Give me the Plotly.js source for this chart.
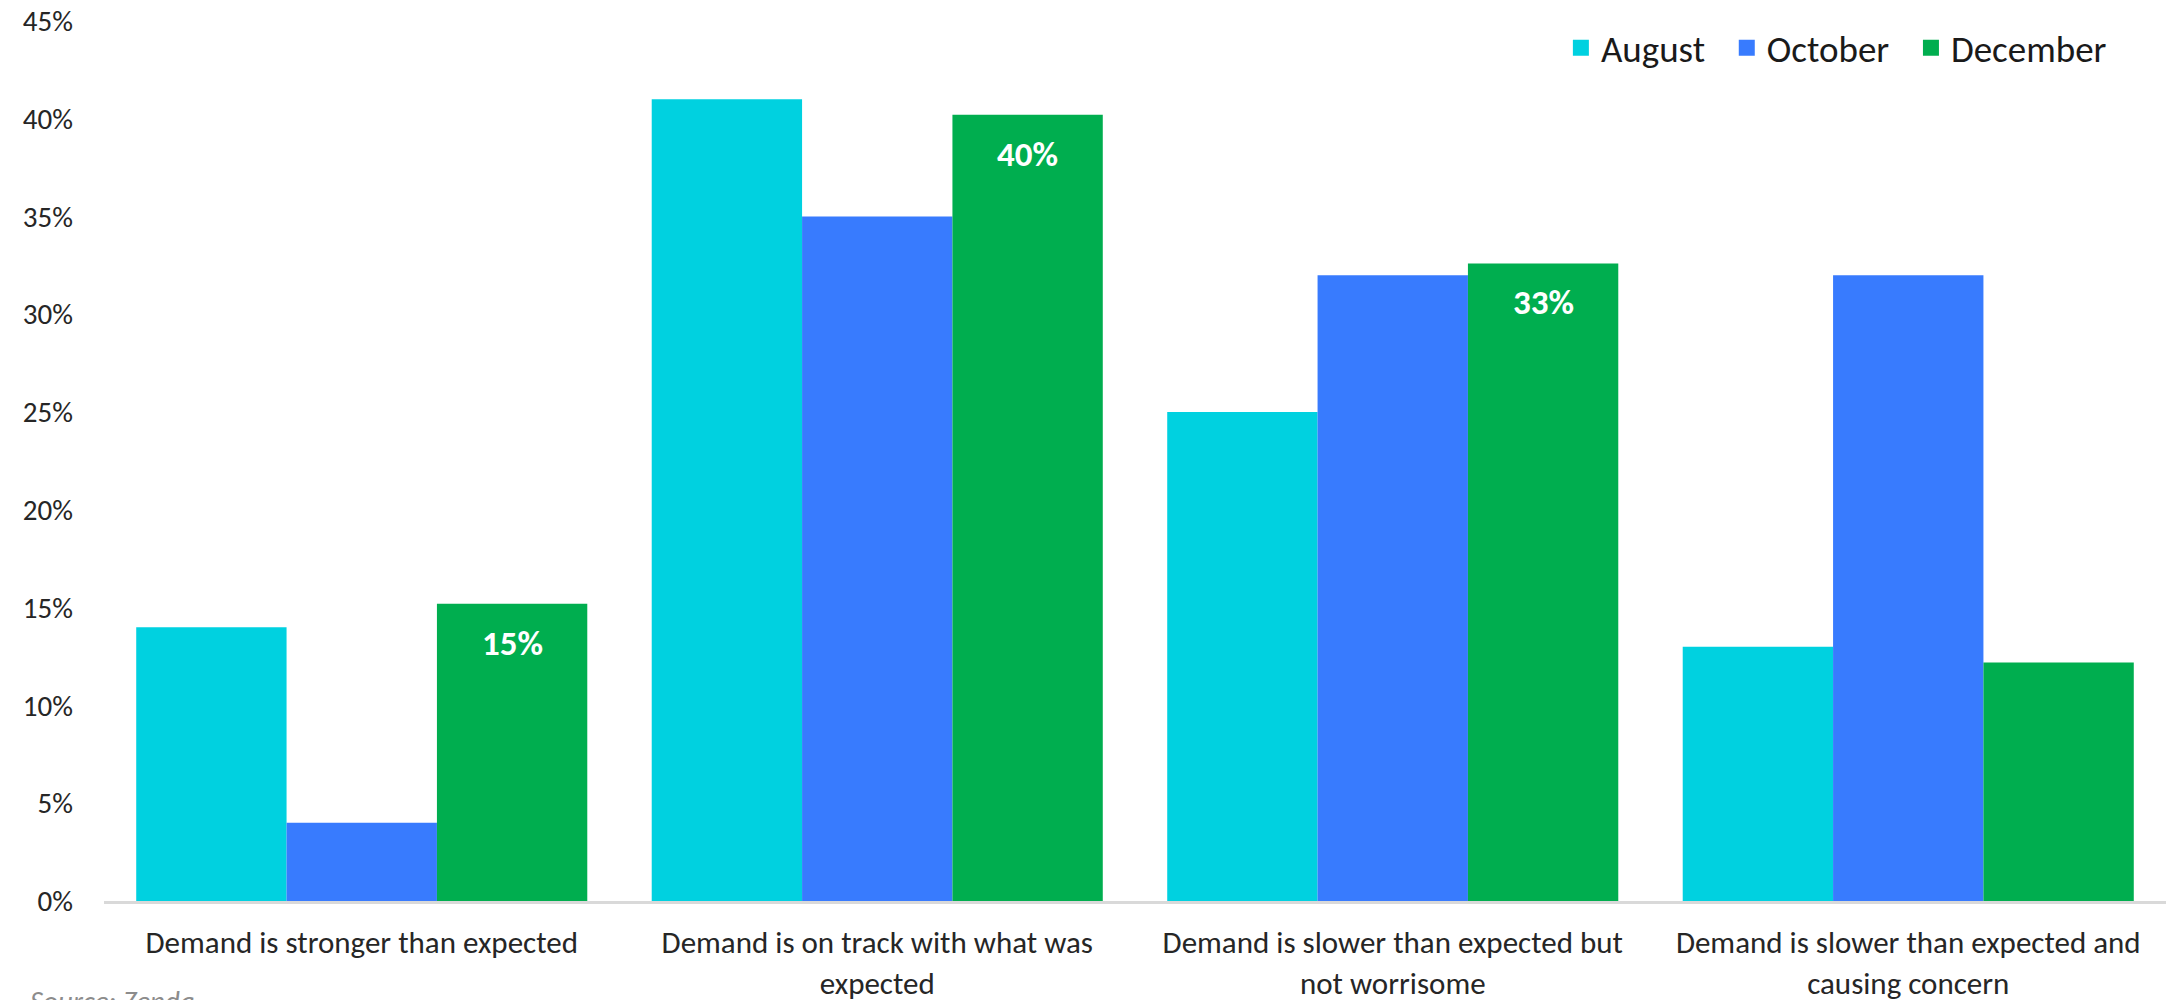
<!DOCTYPE html>
<html>
<head>
<meta charset="utf-8">
<script src="https://cdn.plot.ly/plotly-3.0.1.min.js"></script>
<style>html,body{margin:0;padding:0;background:#fff;overflow:hidden}#chart{width:2167px;height:1000px}</style>
</head>
<body>
<div id="chart"></div>
<script>
const categories = [
  "Demand is stronger than expected",
  "Demand is on track with what was<br>expected",
  "Demand is slower than expected but<br>not worrisome",
  "Demand is slower than expected and<br>causing concern"
];
const seriesNames = ["August", "October", "December"];
const august = [14, 41, 25, 13];
const october = [4, 35, 32, 32];
const december = [15.2, 40.2, 32.6, 12.2];
const decemberLabels = ["15%", "40%", "33%", ""];
const yTicks = [0, 5, 10, 15, 20, 25, 30, 35, 40, 45];
const yTickText = ["0%", "5%", "10%", "15%", "20%", "25%", "30%", "35%", "40%", "45%"];
const sourceText = "Source: Zenda";

const FONT = "Carlito, Lato, 'Liberation Sans', sans-serif";
const W = 2167, H = 1000;
const margin = {l: 104, r: 1, t: 21, b: 99};
const bargap = 0.125;
const colors = ["#00D1E0", "#387BFE", "#00AE4F"];
const values = [august, october, december];

const traces = values.map((v, i) => ({
  type: "bar", name: seriesNames[i], x: categories, y: v,
  marker: {color: colors[i]}, hoverinfo: "skip", showlegend: false
}));
// legend-only proxies with larger square swatches (trailing spaces widen the item gap)
seriesNames.forEach((n, i) => traces.push({
  type: "scatter", mode: "markers", name: n + "\u00a0\u00a0", x: [null], y: [null],
  marker: {symbol: "square", size: 22, color: colors[i]}, showlegend: true, hoverinfo: "skip"
}));

const plotW = W - margin.l - margin.r;
const catW = plotW / categories.length;
const barW = catW * (1 - bargap) / 3;

const annotations = categories.map((c, i) => ({
  x: c, y: december[i], xref: "x", yref: "y",
  text: decemberLabels[i] ? "<b>" + decemberLabels[i] + "</b>" : "",
  showarrow: false, xshift: barW, yshift: -39, yanchor: "middle",
  font: {family: FONT, size: 35, color: "#ffffff"}
})).filter(a => a.text);

annotations.push({
  text: sourceText, xref: "paper", yref: "paper", x: -0.037, y: 0, yshift: -80,
  xanchor: "left", yanchor: "top", showarrow: false,
  font: {family: FONT, size: 29, color: "#8c8c8c", style: "italic"}
});

const layout = {
  width: W, height: H,
  margin: margin,
  paper_bgcolor: "#ffffff", plot_bgcolor: "#ffffff",
  barmode: "group", bargap: bargap, bargroupgap: 0,
  font: {family: FONT, size: 31, color: "#262626"},
  showlegend: true,
  legend: {orientation: "h", x: 0.982, xanchor: "right", y: 0.969, yanchor: "middle",
           font: {family: FONT, size: 37, color: "#1a1a1a"}, bgcolor: "rgba(0,0,0,0)",
           itemwidth: 30, tracegroupgap: 0},
  xaxis: {type: "category", showgrid: false, zeroline: false, showline: true,
          linecolor: "#D9D9D9", linewidth: 3, ticks: "", ticklabelstandoff: 12,
          tickfont: {family: FONT, size: 31, color: "#262626"}, fixedrange: true},
  yaxis: {range: [0, 45], tickvals: yTicks, ticktext: yTickText, showgrid: false,
          zeroline: false, showline: false, ticks: "", ticklabelstandoff: 30,
          tickfont: {family: FONT, size: 29, color: "#262626"}, fixedrange: true},
  annotations: annotations
};

Plotly.newPlot("chart", traces, layout, {displayModeBar: false, staticPlot: true});
</script>
</body>
</html>
